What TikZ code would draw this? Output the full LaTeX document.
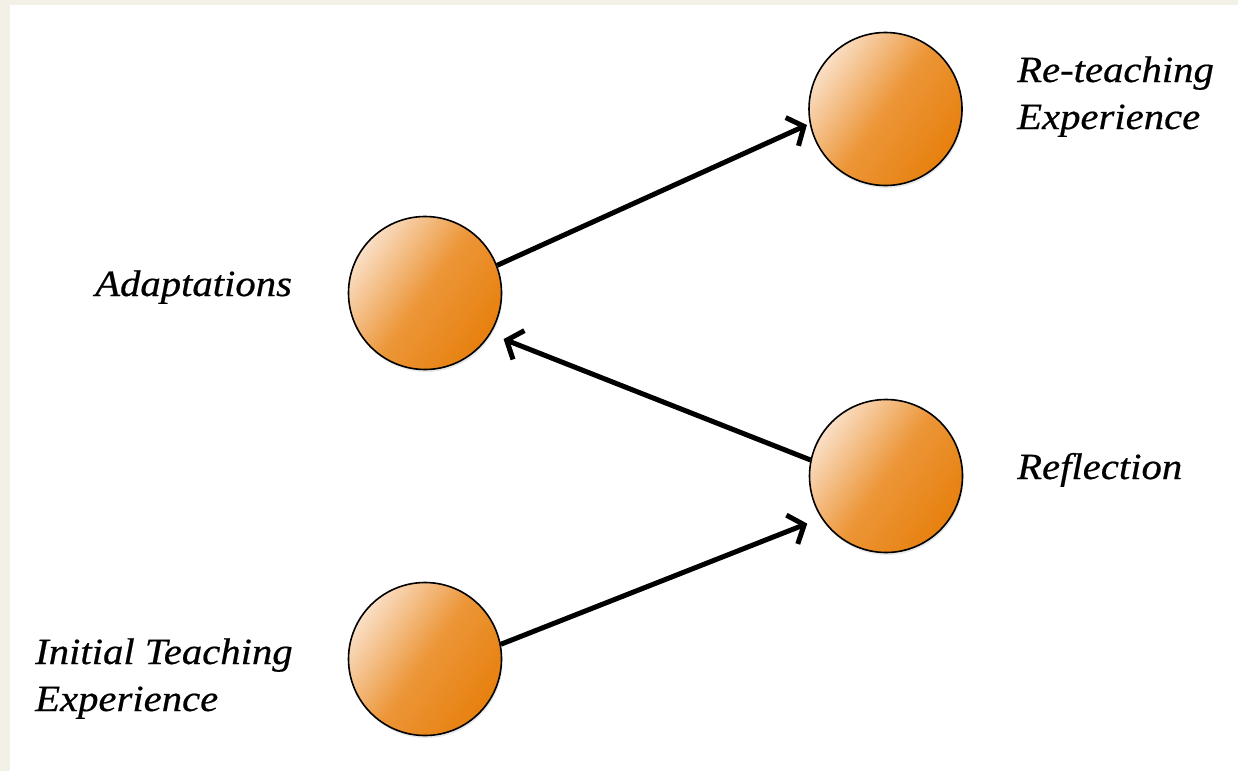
\documentclass[tikz,border=0pt]{standalone}
\usepackage{fontspec}
\newfontfamily\labelfont[FakeStretch=1.1,FakeBold=0.5]{Liberation Serif}
\usetikzlibrary{arrows.meta,shadows}
\definecolor{paper}{HTML}{F3F0E8}
\definecolor{peach}{HTML}{FADFC6}
\definecolor{amber}{HTML}{E7800E}
\definecolor{midorange}{HTML}{EC9638}
\begin{document}
\begin{tikzpicture}[x=1pt,y=-1pt,
  ball/.style={circle, draw=black, line width=1.6pt, minimum size=153pt, inner sep=0pt,
    top color=peach, bottom color=amber, middle color=midorange, shading angle=55,
    drop shadow={opacity=0.18, shadow xshift=1pt, shadow yshift=-2.5pt}},
  flow/.style={line width=5pt, -{Straight Barb[length=13pt,width=31pt]}},
  lbl/.style={inner sep=0pt, align=left, font=\labelfont\itshape\fontsize{37}{47}\selectfont}]

% page with a beige edge along the left and top
\fill[paper] (0,0) rectangle (1238,771);
\fill[white] (10,5) rectangle (1238,771);
\useasboundingbox (0,0) rectangle (1238,771);

% stages of the cycle
\node[ball] (reteach) at (885.5,109) {};
\node[ball] (adapt) at (425,293) {};
\node[ball] (refl) at (886,476) {};
\node[ball] (init) at (425,659) {};

% stage labels (base is the baseline of the last line)
\node[lbl, anchor=base west] (reteachlbl) at (1017,129) {Re-teaching\\Experience};
\node[lbl, anchor=base west] (adaptlbl) at (95,296) {Adaptations};
\node[lbl, anchor=base west] (refllbl) at (1017,479) {Reflection};
\node[lbl, anchor=base west] (initlbl) at (35,711) {Initial Teaching\\Experience};

% transitions between stages
\draw[flow, shorten >=15pt] (init.11) -- (refl.213);
\draw[flow, shorten >=14pt] (refl.168) -- (adapt.328);
\draw[flow, shorten >=3pt] (adapt.21) -- (reteach.191);
\end{tikzpicture}
\end{document}
